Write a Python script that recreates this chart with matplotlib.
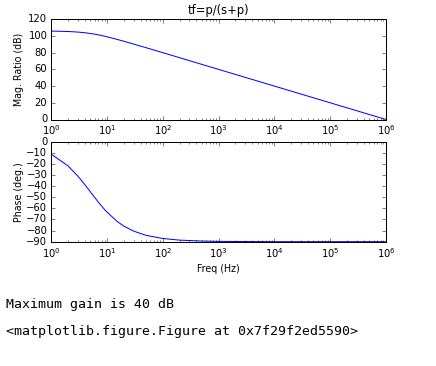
import matplotlib
matplotlib.use('Agg')
import matplotlib.pyplot as plt

# values
freq = [1, 2, 3, 4, 5, 6, 7, 8, 9, 10, 15, 20, 30, 50, 100, 200, 500,
        1000, 10000, 100000, 1000000]
mag_db = [105.9, 105.4, 104.7, 103.9, 103.0, 102.2, 101.4, 100.5, 99.8, 99.0,
          96.0, 93.7, 90.3, 86.0, 80.0, 74.0, 66.0, 60.0, 40.0, 20.0, 0.0]
phase_deg = [-11.3, -21.8, -31.0, -38.7, -45.0, -50.2, -54.5, -58.0, -61.0,
             -63.4, -71.6, -76.0, -80.5, -84.3, -87.1, -88.6, -89.4, -89.7,
             -90.0, -90.0, -90.0]
mag_ticks = [0, 20, 40, 60, 80, 100, 120]
phase_ticks = [0, -10, -20, -30, -40, -50, -60, -70, -80, -90]

plt.style.use('classic')
W, H = 436, 366
fig = plt.figure(figsize=(W / 72, H / 72), dpi=72, facecolor='white')

def px_axes(left, top, right, bottom):
    return fig.add_axes([left / W, 1 - bottom / H, (right - left) / W, (bottom - top) / H])

ax1 = px_axes(51.3, 19.3, 386, 119.5)
ax2 = px_axes(51.3, 141.7, 386, 241.7)

ax1.semilogx(freq, mag_db, color='b', lw=1)
ax1.set_xlim(1, 1e6)
ax1.set_ylim(0, 120)
ax1.set_yticks(mag_ticks)
ax1.set_ylabel('Mag. Ratio (dB)', fontsize=9.5, labelpad=4)
ax1.set_title('tf=p/(s+p)', fontsize=11.5)

ax2.semilogx(freq, phase_deg, color='b', lw=1)
ax2.set_xlim(1, 1e6)
ax2.set_ylim(-90, 0)
ax2.set_yticks(phase_ticks)
ax2.set_ylabel('Phase (deg.)', fontsize=9.5, labelpad=2)
ax2.set_xlabel('Freq (Hz)', fontsize=9.5)

for ax in (ax1, ax2):
    ax.tick_params(labelsize=10)
    ax.set_facecolor('white')

fig.text(6 / W, 1 - 308 / H, 'Maximum gain is 40 dB', family='DejaVu Sans Mono',
         fontsize=13.3, va='baseline')
fig.text(6 / W, 1 - 335 / H, '<matplotlib.figure.Figure at 0x7f29f2ed5590>',
         family='DejaVu Sans Mono', fontsize=13.3, va='baseline')

fig.savefig('out.png', dpi=72, facecolor='white')
